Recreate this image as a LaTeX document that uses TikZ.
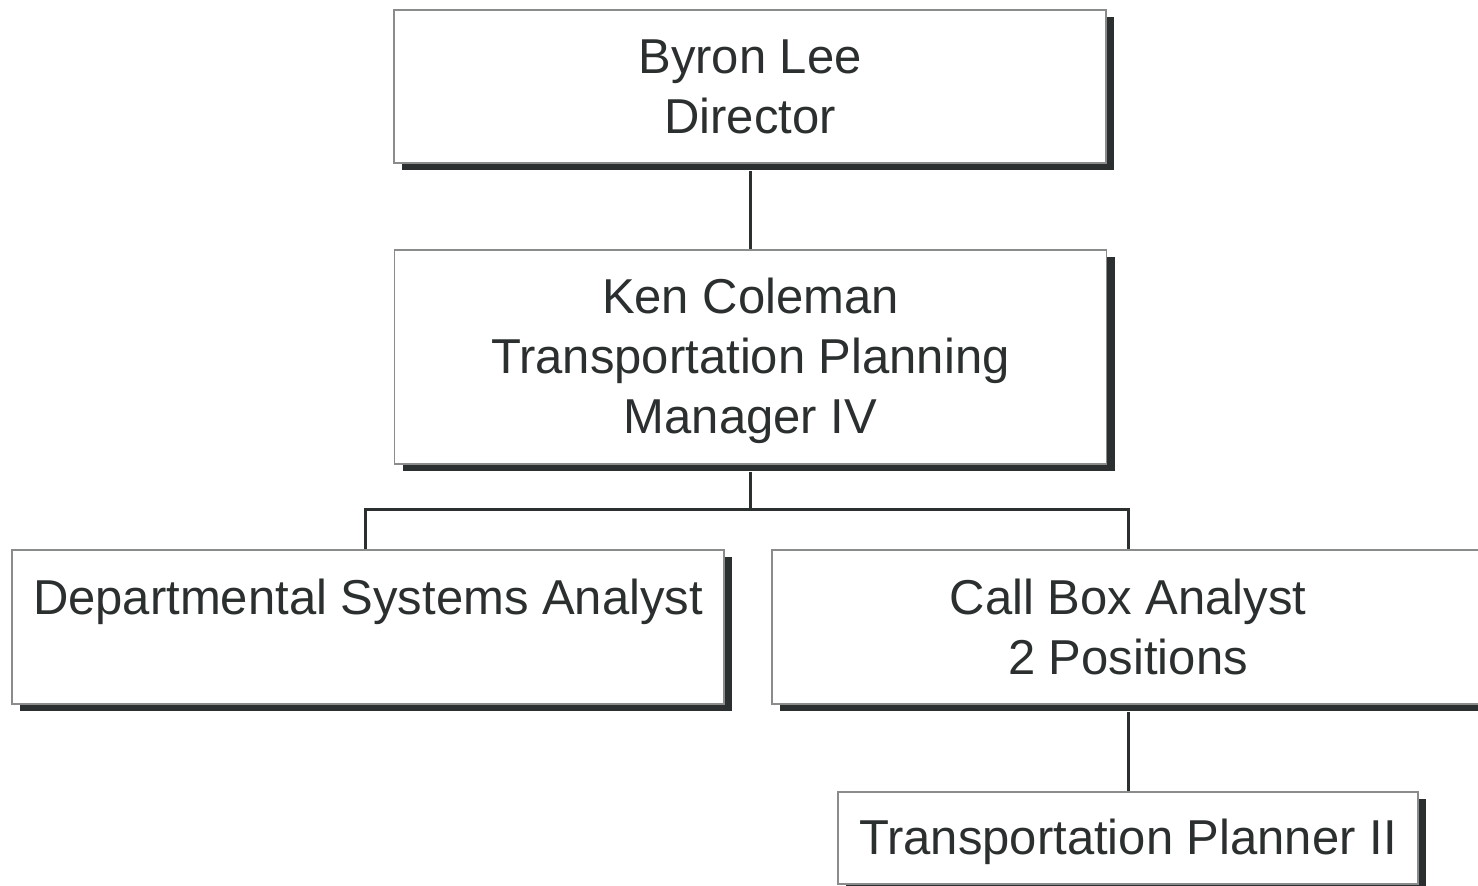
\documentclass[tikz,border=0pt]{standalone}
\usepackage{fontspec}
\setmainfont{Liberation Sans}
\usetikzlibrary{shadows}
\definecolor{ink}{HTML}{2B2F2F}
\definecolor{rim}{HTML}{8A8C8C}
\begin{document}
\begin{tikzpicture}[x=0.5pt,y=-0.5pt,
  orgbox/.style={draw=rim, line width=0.8pt, fill=white, text=ink,
    align=center, inner sep=0pt,
    font=\fontsize{24.5pt}{30pt}\selectfont,
    drop shadow={shadow xshift=4.2pt, shadow yshift=-3.5pt, fill=ink, opacity=1}},
  link/.style={draw=ink, line width=1.5pt}]
\useasboundingbox (0,0) rectangle (1478,886);
\clip (0,0) rectangle (1478,886);
\node[orgbox, minimum width=356pt, minimum height=76.5pt] (dir) at (750,86.5) {Byron Lee\\Director};
\node[orgbox, minimum width=356pt, minimum height=107pt] (mgr) at (750.5,357) {\raisebox{-2pt}[\height][\depth]{\parbox{356pt}{\centering Ken Coleman\\Transportation Planning\\Manager IV}}};
\node[orgbox, minimum width=356pt, minimum height=77pt] (dsa) at (368,627) {Departmental Systems Analyst\\\mbox{}};
\node[orgbox, minimum width=356pt, minimum height=77pt] (cba) at (1128,627) {Call Box Analyst\\2 Positions};
\node[orgbox, minimum width=290pt, minimum height=46pt] (tp) at (1128,838) {\raisebox{-2pt}[\height][\depth]{Transportation Planner II}};
\coordinate (split) at (750,510);
\draw[link] ([yshift=-3.5pt]dir.south) -- (dir.south |- mgr.north);
\draw[link] ([yshift=-3.5pt]mgr.south) -- (mgr.south |- split) coordinate (splitc);
\draw[link] (splitc) -| ([xshift=-1.5pt]dsa.north);
\draw[link] (splitc) -| (cba.north);
\draw[link] ([yshift=-3.5pt]cba.south) -- (tp.north);
\end{tikzpicture}
\end{document}
